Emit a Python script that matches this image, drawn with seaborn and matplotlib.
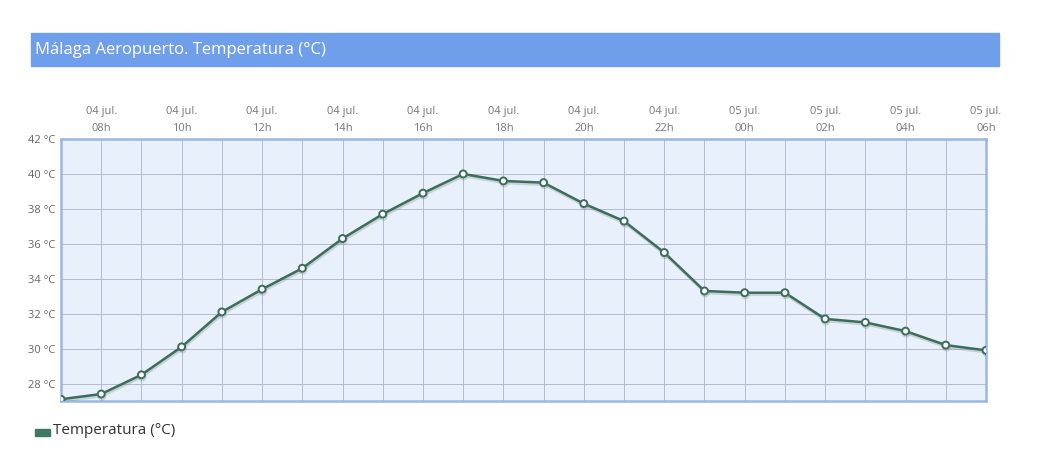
import matplotlib
matplotlib.use('Agg')
import matplotlib.pyplot as plt
import matplotlib.patheffects as pe
from matplotlib.patches import Rectangle
import seaborn as sns
import pandas as pd

# Hourly readings, 04 jul 07h -> 05 jul 06h
hours = ['07h', '08h', '09h', '10h', '11h', '12h', '13h', '14h', '15h', '16h', '17h', '18h',
         '19h', '20h', '21h', '22h', '23h', '00h', '01h', '02h', '03h', '04h', '05h', '06h']
days = ['04 jul.'] * 17 + ['05 jul.'] * 7
temps = [27.1, 27.4, 28.5, 30.1, 32.1, 33.4, 34.6, 36.3, 37.7, 38.9, 40.0, 39.6,
         39.5, 38.3, 37.3, 35.5, 33.3, 33.2, 33.2, 31.7, 31.5, 31.0, 30.2, 29.9]
y_ticks = [28, 30, 32, 34, 36, 38, 40, 42]

title = 'Málaga Aeropuerto. Temperatura (°C)'
series_name = 'Temperatura (°C)'

df = pd.DataFrame({'idx': range(len(temps)), 'temp': temps})

sns.set_theme(style='white')
plt.rcParams['font.family'] = ['Open Sans', 'DejaVu Sans']

fig = plt.figure(figsize=(10.38, 4.66), dpi=100)
fig.patch.set_facecolor('white')

# Title bar
fig.patches.append(Rectangle((31 / 1038, 1 - 66 / 466), (999 - 31) / 1038, 33 / 466,
                             transform=fig.transFigure, color='#6f9fea', zorder=0))
fig.text(35 / 1038, 1 - 50 / 466, title, color='white', fontsize=12, va='center', ha='left')

ax = fig.add_axes([61 / 1038, 1 - 401 / 466, (986 - 61) / 1038, (401 - 139) / 466])
ax.set_facecolor('#e8f0fb')

line_color = '#3f6b5c'
sns.lineplot(data=df, x='idx', y='temp', ax=ax, color=line_color, linewidth=1.8,
             marker='o', markersize=5, markerfacecolor='white', markeredgecolor=line_color,
             markeredgewidth=1.4, zorder=5,
             path_effects=[pe.SimpleLineShadow(offset=(0.5, -1.5), shadow_color='#7f9a90', alpha=0.35),
                           pe.Normal()])

ax.set_xlim(0, len(temps) - 1)
ax.set_ylim(27.0, 42)
ax.set_xticks(range(len(temps)))
ax.set_yticks(y_ticks)
ax.set_yticklabels([f'{t} °C' for t in y_ticks], color='#666666', fontsize=8)
ax.grid(True, color='#b3bbcd', linewidth=0.7)
ax.set_axisbelow(True)
ax.set_xlabel('')
ax.set_ylabel('')
ax.tick_params(axis='both', length=0, pad=4)
ax.tick_params(axis='x', labelbottom=False)

# top labels every 2 hours
for i in range(1, len(temps), 2):
    ax.text(i, 1.02, f'{days[i]}\n{hours[i]}', transform=ax.get_xaxis_transform(),
            ha='center', va='bottom', fontsize=8, color='#777777', linespacing=1.75)

for s in ax.spines.values():
    s.set_color('#9bb6e3')
    s.set_linewidth(1.8)

# legend
fig.patches.append(Rectangle((35 / 1038, 1 - 436 / 466), 15 / 1038, 7 / 466,
                             transform=fig.transFigure, color='#3d7a62'))
fig.text(53 / 1038, 1 - 431 / 466, series_name, fontsize=11, color='#333333',
         va='center', ha='left')

fig.savefig('out.png', dpi=100)
